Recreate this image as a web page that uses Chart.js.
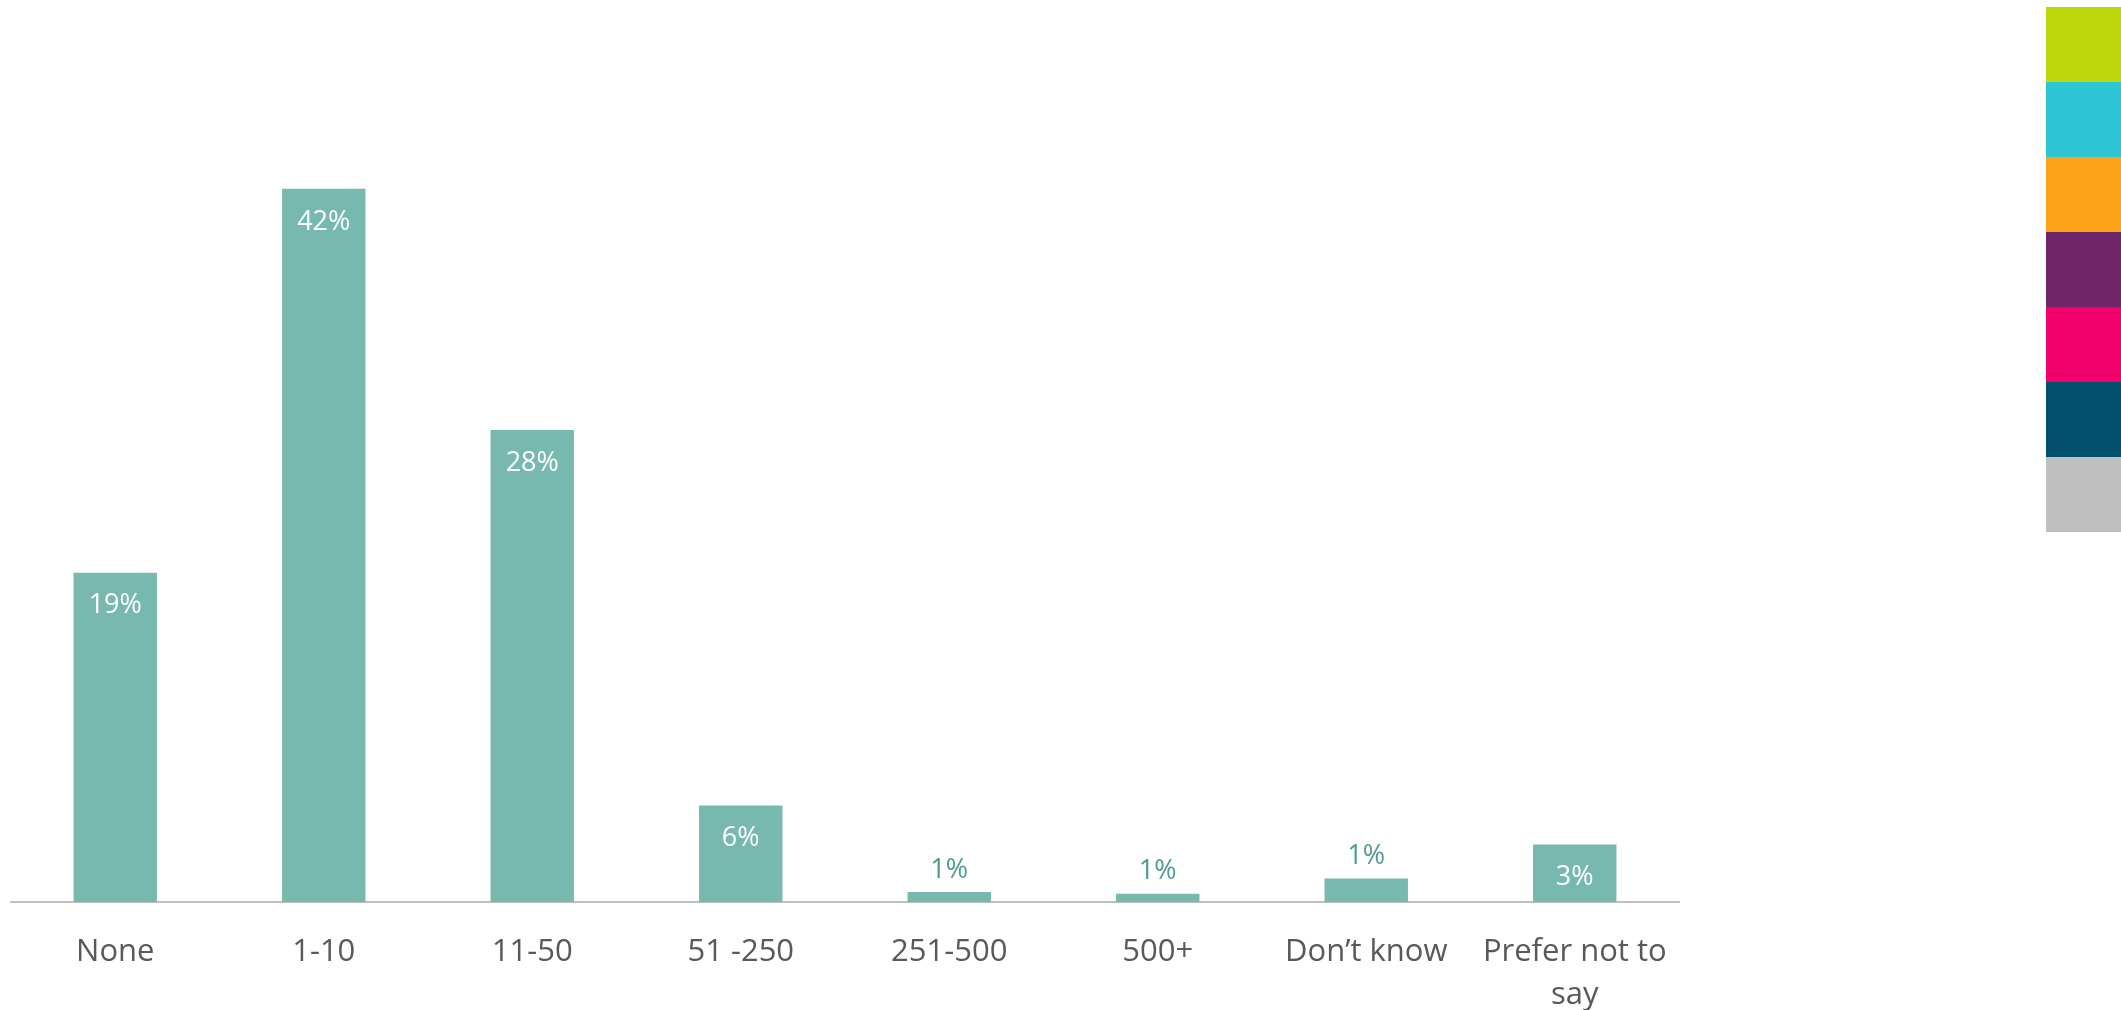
<!DOCTYPE html>
<html>
<head>
<meta charset="utf-8">
<script src="https://cdn.jsdelivr.net/npm/chart.js@4/dist/chart.umd.min.js"></script>
<style>
  html, body { margin: 0; padding: 0; background: #ffffff; }
  #wrap { position: relative; width: 2121px; height: 1010px; }
  #swatches { position: absolute; left: 2046px; top: 7px; width: 75px; }
  #swatches div { width: 75px; height: 75px; }
</style>
</head>
<body>
<div id="wrap">
  <canvas id="barChart"></canvas>
  <div id="swatches"></div>
</div>
<script>

// ================================
// Data
// ================================

const categories = ["None", "1-10", "11-50", "51 -250", "251-500", "500+", "Don\u2019t know", ["Prefer not to", "say"]]
const shares = [19.4, 42.0, 27.8, 5.7, 0.6, 0.5, 1.4, 3.4]

// decorative colour strip on the right edge
const swatchColors = ["#BDD70B", "#2DC5D6", "#FBA216", "#6E2668", "#F1006E", "#00506E", "#BFBFBF"]

const barColor = "#77B9AE"
const outsideLabelColor = "#4E9C8F"
const tickColor = "#595959"
const fontFamily = "'Open Sans', 'Noto Sans', sans-serif"

// ================================
// Colour strip
// ================================

const strip = document.getElementById("swatches")
for (let c of swatchColors) {
    let d = document.createElement("div")
    d.style.background = c
    strip.appendChild(d)
}

// ================================
// Value labels (inside for tall bars, above for short ones)
// ================================

const valueLabels = {
    id: "valueLabels",
    afterDatasetsDraw(chart) {
        const ctx = chart.ctx
        const meta = chart.getDatasetMeta(0)
        ctx.save()
        ctx.font = "27px " + fontFamily
        ctx.textAlign = "center"
        ctx.textBaseline = "middle"
        meta.data.forEach((bar, i) => {
            let v = shares[i]
            let text = Math.round(v) + "%"
            if (v >= 3) {
                ctx.fillStyle = "#ffffff"
                ctx.fillText(text, bar.x, bar.y + 33)
            } else {
                ctx.fillStyle = outsideLabelColor
                ctx.fillText(text, bar.x, bar.y - 22)
            }
        })
        ctx.restore()
    }
}

// ================================
// Chart
// ================================

new Chart(document.getElementById("barChart"), {

    type: "bar",

    data: {
        labels: categories,
        datasets: [{
            data: shares,
            backgroundColor: barColor,
            borderWidth: 0,
            categoryPercentage: 1.0,
            barPercentage: 0.4
        }]
    },

    options: {
        responsive: true,
        maintainAspectRatio: false,
        animation: false,
        layout: {
            padding: { top: 53, left: 11, right: 442, bottom: -35 }
        },
        plugins: {
            legend: { display: false },
            tooltip: { enabled: false }
        },
        scales: {
            x: {
                grid: { display: false, drawTicks: false },
                border: { display: true, color: "#BFBFBF", width: 2 },
                ticks: {
                    color: tickColor,
                    font: { family: fontFamily, size: 31, lineHeight: 1.4 },
                    padding: 28,
                    autoSkip: false,
                    maxRotation: 0
                }
            },
            y: {
                display: false,
                min: 0,
                max: 50
            }
        }
    },

    plugins: [valueLabels]

})

</script>
</body>
</html>
